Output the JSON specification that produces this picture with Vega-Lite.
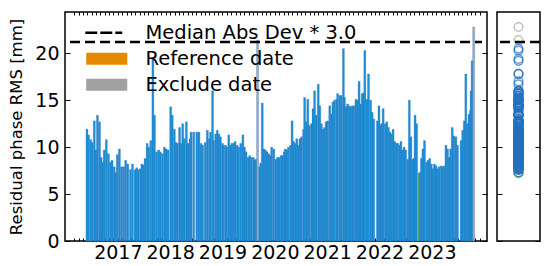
{
  "$schema": "https://vega.github.io/schema/vega-lite/v6.json",
  "padding": {"left": 8, "top": 10, "right": 0, "bottom": 0},
  "background": "white",
  "config": {
    "view": {"stroke": "black", "strokeWidth": 1.5},
    "axis": {"domain": false, "grid": false, "tickColor": "black", "tickWidth": 1, "labelColor": "black", "labelFont": "DejaVu Sans", "labelFontSize": 19, "titleFont": "DejaVu Sans", "titleFontWeight": "normal", "titleColor": "black"}
  },
  "datasets": {
    "bars": [
      {"t": 2016.41, "v": 11.9, "s": "n"}, {"t": 2016.44, "v": 11.3, "s": "n"}, {"t": 2016.48, "v": 10.8, "s": "n"}, {"t": 2016.51, "v": 10.5, "s": "n"},
      {"t": 2016.55, "v": 12.8, "s": "n"}, {"t": 2016.58, "v": 9.7, "s": "n"}, {"t": 2016.61, "v": 13.4, "s": "n"}, {"t": 2016.65, "v": 12.7, "s": "n"},
      {"t": 2016.68, "v": 8.9, "s": "n"}, {"t": 2016.71, "v": 8.4, "s": "n"}, {"t": 2016.74, "v": 9.7, "s": "n"}, {"t": 2016.78, "v": 10.8, "s": "n"},
      {"t": 2016.82, "v": 9.3, "s": "n"}, {"t": 2016.86, "v": 8.4, "s": "n"}, {"t": 2016.89, "v": 8.6, "s": "n"}, {"t": 2016.93, "v": 7.9, "s": "n"},
      {"t": 2016.96, "v": 7.3, "s": "n"}, {"t": 2016.99, "v": 9.2, "s": "n"}, {"t": 2017.03, "v": 9.8, "s": "n"}, {"t": 2017.07, "v": 7.9, "s": "n"},
      {"t": 2017.11, "v": 7.9, "s": "n"}, {"t": 2017.15, "v": 8.6, "s": "n"}, {"t": 2017.19, "v": 8.2, "s": "n"}, {"t": 2017.24, "v": 7.6, "s": "n"},
      {"t": 2017.28, "v": 8.2, "s": "n"}, {"t": 2017.33, "v": 7.6, "s": "n"}, {"t": 2017.36, "v": 7.8, "s": "n"}, {"t": 2017.39, "v": 7.6, "s": "n"},
      {"t": 2017.43, "v": 7.7, "s": "n"}, {"t": 2017.46, "v": 8.2, "s": "n"}, {"t": 2017.49, "v": 8.1, "s": "n"}, {"t": 2017.52, "v": 8.8, "s": "n"},
      {"t": 2017.56, "v": 10.4, "s": "n"}, {"t": 2017.59, "v": 10.0, "s": "n"}, {"t": 2017.63, "v": 10.7, "s": "n"}, {"t": 2017.67, "v": 19.4, "s": "n"},
      {"t": 2017.70, "v": 13.4, "s": "n"}, {"t": 2017.74, "v": 9.5, "s": "n"}, {"t": 2017.78, "v": 9.7, "s": "n"}, {"t": 2017.81, "v": 9.5, "s": "n"},
      {"t": 2017.85, "v": 9.3, "s": "n"}, {"t": 2017.89, "v": 10.0, "s": "n"}, {"t": 2017.92, "v": 9.8, "s": "n"}, {"t": 2017.96, "v": 9.7, "s": "n"},
      {"t": 2018.01, "v": 14.3, "s": "n"}, {"t": 2018.04, "v": 13.4, "s": "n"}, {"t": 2018.08, "v": 11.9, "s": "n"}, {"t": 2018.11, "v": 10.5, "s": "n"},
      {"t": 2018.14, "v": 10.4, "s": "n"}, {"t": 2018.18, "v": 12.1, "s": "n"}, {"t": 2018.21, "v": 10.4, "s": "n"}, {"t": 2018.24, "v": 12.5, "s": "n"},
      {"t": 2018.27, "v": 10.9, "s": "n"}, {"t": 2018.31, "v": 12.7, "s": "n"}, {"t": 2018.34, "v": 10.4, "s": "n"}, {"t": 2018.38, "v": 10.9, "s": "n"},
      {"t": 2018.40, "v": 11.6, "s": "n"}, {"t": 2018.45, "v": 11.6, "s": "n"}, {"t": 2018.51, "v": 11.6, "s": "n"}, {"t": 2018.55, "v": 11.6, "s": "n"},
      {"t": 2018.59, "v": 10.4, "s": "n"}, {"t": 2018.62, "v": 10.2, "s": "n"}, {"t": 2018.67, "v": 10.5, "s": "n"}, {"t": 2018.71, "v": 11.8, "s": "n"},
      {"t": 2018.75, "v": 10.9, "s": "n"}, {"t": 2018.77, "v": 11.6, "s": "n"}, {"t": 2018.81, "v": 16.0, "s": "n"}, {"t": 2018.83, "v": 10.7, "s": "n"},
      {"t": 2018.87, "v": 11.4, "s": "n"}, {"t": 2018.90, "v": 11.8, "s": "n"}, {"t": 2018.93, "v": 11.4, "s": "n"}, {"t": 2018.96, "v": 11.1, "s": "n"},
      {"t": 2019.00, "v": 10.4, "s": "n"}, {"t": 2019.02, "v": 10.2, "s": "n"}, {"t": 2019.06, "v": 10.2, "s": "n"}, {"t": 2019.08, "v": 10.0, "s": "n"},
      {"t": 2019.12, "v": 11.3, "s": "n"}, {"t": 2019.15, "v": 10.2, "s": "n"}, {"t": 2019.18, "v": 10.4, "s": "n"}, {"t": 2019.21, "v": 10.4, "s": "n"},
      {"t": 2019.24, "v": 10.6, "s": "n"}, {"t": 2019.28, "v": 10.2, "s": "n"}, {"t": 2019.31, "v": 10.0, "s": "n"}, {"t": 2019.35, "v": 10.4, "s": "n"},
      {"t": 2019.39, "v": 11.3, "s": "n"}, {"t": 2019.42, "v": 10.0, "s": "n"}, {"t": 2019.45, "v": 9.5, "s": "n"}, {"t": 2019.49, "v": 8.9, "s": "n"},
      {"t": 2019.52, "v": 9.1, "s": "n"}, {"t": 2019.55, "v": 8.9, "s": "n"}, {"t": 2019.59, "v": 8.9, "s": "n"}, {"t": 2019.61, "v": 8.6, "s": "n"},
      {"t": 2019.64, "v": 8.7, "s": "n"}, {"t": 2019.67, "v": 21.4, "s": "x"}, {"t": 2019.71, "v": 7.9, "s": "n"}, {"t": 2019.73, "v": 8.3, "s": "n"},
      {"t": 2019.76, "v": 14.7, "s": "n"}, {"t": 2019.79, "v": 9.8, "s": "n"}, {"t": 2019.82, "v": 9.7, "s": "n"}, {"t": 2019.85, "v": 9.5, "s": "n"},
      {"t": 2019.88, "v": 9.3, "s": "n"}, {"t": 2019.91, "v": 9.1, "s": "n"}, {"t": 2019.94, "v": 10.0, "s": "n"}, {"t": 2019.98, "v": 9.8, "s": "n"},
      {"t": 2020.02, "v": 8.7, "s": "n"}, {"t": 2020.05, "v": 8.9, "s": "n"}, {"t": 2020.08, "v": 8.9, "s": "n"}, {"t": 2020.12, "v": 9.1, "s": "n"},
      {"t": 2020.15, "v": 9.1, "s": "n"}, {"t": 2020.18, "v": 9.5, "s": "n"}, {"t": 2020.20, "v": 9.8, "s": "n"}, {"t": 2020.23, "v": 9.7, "s": "n"},
      {"t": 2020.26, "v": 10.0, "s": "n"}, {"t": 2020.30, "v": 10.2, "s": "n"}, {"t": 2020.33, "v": 12.8, "s": "n"}, {"t": 2020.36, "v": 10.6, "s": "n"},
      {"t": 2020.39, "v": 10.4, "s": "n"}, {"t": 2020.42, "v": 10.9, "s": "n"}, {"t": 2020.45, "v": 10.2, "s": "n"}, {"t": 2020.48, "v": 10.9, "s": "n"},
      {"t": 2020.51, "v": 11.1, "s": "n"}, {"t": 2020.55, "v": 11.9, "s": "n"}, {"t": 2020.57, "v": 15.3, "s": "n"}, {"t": 2020.60, "v": 12.7, "s": "n"},
      {"t": 2020.63, "v": 15.1, "s": "n"}, {"t": 2020.66, "v": 12.3, "s": "n"}, {"t": 2020.70, "v": 12.5, "s": "n"}, {"t": 2020.73, "v": 14.1, "s": "n"},
      {"t": 2020.76, "v": 16.0, "s": "n"}, {"t": 2020.79, "v": 13.4, "s": "n"}, {"t": 2020.83, "v": 16.7, "s": "n"}, {"t": 2020.86, "v": 14.4, "s": "n"},
      {"t": 2020.89, "v": 12.5, "s": "n"}, {"t": 2020.92, "v": 11.9, "s": "n"}, {"t": 2020.95, "v": 12.1, "s": "n"}, {"t": 2020.98, "v": 12.7, "s": "n"},
      {"t": 2021.01, "v": 12.8, "s": "n"}, {"t": 2021.05, "v": 14.4, "s": "n"}, {"t": 2021.08, "v": 13.5, "s": "n"}, {"t": 2021.11, "v": 14.8, "s": "n"},
      {"t": 2021.14, "v": 15.0, "s": "n"}, {"t": 2021.18, "v": 15.1, "s": "n"}, {"t": 2021.20, "v": 15.7, "s": "n"}, {"t": 2021.24, "v": 15.5, "s": "n"},
      {"t": 2021.27, "v": 15.5, "s": "n"}, {"t": 2021.31, "v": 20.5, "s": "n"}, {"t": 2021.33, "v": 15.3, "s": "n"}, {"t": 2021.36, "v": 14.3, "s": "n"},
      {"t": 2021.39, "v": 14.6, "s": "n"}, {"t": 2021.42, "v": 14.4, "s": "n"}, {"t": 2021.45, "v": 14.3, "s": "n"}, {"t": 2021.48, "v": 14.4, "s": "n"},
      {"t": 2021.51, "v": 14.4, "s": "n"}, {"t": 2021.55, "v": 15.1, "s": "n"}, {"t": 2021.58, "v": 15.0, "s": "n"}, {"t": 2021.61, "v": 17.0, "s": "n"},
      {"t": 2021.64, "v": 14.6, "s": "n"}, {"t": 2021.67, "v": 15.7, "s": "n"}, {"t": 2021.70, "v": 15.8, "s": "n"}, {"t": 2021.72, "v": 20.3, "s": "n"},
      {"t": 2021.76, "v": 15.1, "s": "n"}, {"t": 2021.79, "v": 17.8, "s": "n"}, {"t": 2021.83, "v": 15.0, "s": "n"}, {"t": 2021.86, "v": 13.7, "s": "n"},
      {"t": 2021.89, "v": 13.0, "s": "n"}, {"t": 2021.96, "v": 12.8, "s": "n"}, {"t": 2021.99, "v": 14.4, "s": "n"}, {"t": 2022.01, "v": 12.3, "s": "n"},
      {"t": 2022.04, "v": 12.5, "s": "n"}, {"t": 2022.07, "v": 14.1, "s": "n"}, {"t": 2022.11, "v": 12.5, "s": "n"}, {"t": 2022.14, "v": 12.7, "s": "n"},
      {"t": 2022.17, "v": 12.1, "s": "n"}, {"t": 2022.20, "v": 11.6, "s": "n"}, {"t": 2022.23, "v": 11.4, "s": "n"}, {"t": 2022.26, "v": 11.9, "s": "n"},
      {"t": 2022.29, "v": 10.6, "s": "n"}, {"t": 2022.32, "v": 10.4, "s": "n"}, {"t": 2022.35, "v": 10.4, "s": "n"}, {"t": 2022.39, "v": 10.2, "s": "n"},
      {"t": 2022.41, "v": 10.6, "s": "n"}, {"t": 2022.44, "v": 9.7, "s": "n"}, {"t": 2022.47, "v": 10.0, "s": "n"}, {"t": 2022.50, "v": 9.7, "s": "n"},
      {"t": 2022.54, "v": 8.7, "s": "n"}, {"t": 2022.57, "v": 15.0, "s": "n"}, {"t": 2022.60, "v": 11.1, "s": "n"}, {"t": 2022.63, "v": 8.7, "s": "n"},
      {"t": 2022.66, "v": 8.8, "s": "n"}, {"t": 2022.68, "v": 13.4, "s": "n"}, {"t": 2022.71, "v": 12.5, "s": "n"}, {"t": 2022.74, "v": 7.2, "s": "r"},
      {"t": 2022.77, "v": 7.3, "s": "n"}, {"t": 2022.80, "v": 8.8, "s": "n"}, {"t": 2022.83, "v": 9.8, "s": "n"}, {"t": 2022.86, "v": 10.7, "s": "n"},
      {"t": 2022.90, "v": 8.4, "s": "n"}, {"t": 2022.93, "v": 8.6, "s": "n"}, {"t": 2022.96, "v": 8.8, "s": "n"}, {"t": 2022.99, "v": 8.2, "s": "n"},
      {"t": 2023.02, "v": 7.7, "s": "n"}, {"t": 2023.05, "v": 8.2, "s": "n"}, {"t": 2023.08, "v": 8.0, "s": "n"}, {"t": 2023.11, "v": 7.7, "s": "n"},
      {"t": 2023.14, "v": 7.9, "s": "n"}, {"t": 2023.18, "v": 8.0, "s": "n"}, {"t": 2023.21, "v": 7.9, "s": "n"}, {"t": 2023.24, "v": 8.0, "s": "n"},
      {"t": 2023.27, "v": 10.2, "s": "n"}, {"t": 2023.30, "v": 9.8, "s": "n"}, {"t": 2023.33, "v": 8.9, "s": "n"}, {"t": 2023.36, "v": 9.8, "s": "n"},
      {"t": 2023.39, "v": 12.1, "s": "n"}, {"t": 2023.42, "v": 11.2, "s": "n"}, {"t": 2023.46, "v": 11.1, "s": "n"}, {"t": 2023.49, "v": 10.2, "s": "n"},
      {"t": 2023.56, "v": 10.7, "s": "n"}, {"t": 2023.59, "v": 11.8, "s": "n"}, {"t": 2023.62, "v": 12.8, "s": "n"}, {"t": 2023.65, "v": 17.8, "s": "n"},
      {"t": 2023.68, "v": 12.5, "s": "n"}, {"t": 2023.71, "v": 13.5, "s": "n"}, {"t": 2023.74, "v": 13.9, "s": "n"}, {"t": 2023.75, "v": 16.0, "s": "n"},
      {"t": 2023.77, "v": 19.2, "s": "n"}, {"t": 2023.80, "v": 22.8, "s": "x"}
    ],
    "items": [
      {"item": "Median Abs Dev * 3.0"}, {"item": "Reference date"}, {"item": "Exclude date"}
    ]
  },
  "spacing": 6,
  "hconcat": [
    {
      "width": 422,
      "height": 229,
      "resolve": {"axis": {"x": "independent", "y": "independent"}},
      "layer": [
        {
          "data": {"name": "bars"},
          "mark": {"type": "bar", "width": 2, "stroke": "#3272c6", "strokeWidth": 0.3},
          "encoding": {
            "x": {"field": "t", "type": "quantitative",
              "scale": {"domain": [2016.086, 2023.959], "nice": false, "zero": false},
              "axis": {"orient": "bottom", "title": null, "tickSize": -3, "labelPadding": 5, "labelFlush": false, "labelOverlap": false,
                "labelExpr": "abs(datum.value - round(datum.value)) < 0.01 ? format(datum.value, 'd') : ''",
                "values": [2016.1667,2016.25,2016.3333,2016.4167,2016.5,2016.5833,2016.6667,2016.75,2016.8333,2016.9167,
                  2017,2017.0833,2017.1667,2017.25,2017.3333,2017.4167,2017.5,2017.5833,2017.6667,2017.75,2017.8333,2017.9167,
                  2018,2018.0833,2018.1667,2018.25,2018.3333,2018.4167,2018.5,2018.5833,2018.6667,2018.75,2018.8333,2018.9167,
                  2019,2019.0833,2019.1667,2019.25,2019.3333,2019.4167,2019.5,2019.5833,2019.6667,2019.75,2019.8333,2019.9167,
                  2020,2020.0833,2020.1667,2020.25,2020.3333,2020.4167,2020.5,2020.5833,2020.6667,2020.75,2020.8333,2020.9167,
                  2021,2021.0833,2021.1667,2021.25,2021.3333,2021.4167,2021.5,2021.5833,2021.6667,2021.75,2021.8333,2021.9167,
                  2022,2022.0833,2022.1667,2022.25,2022.3333,2022.4167,2022.5,2022.5833,2022.6667,2022.75,2022.8333,2022.9167,
                  2023,2023.0833,2023.1667,2023.25,2023.3333,2023.4167,2023.5,2023.5833,2023.6667,2023.75,2023.8333,2023.9167]}},
            "y": {"field": "v", "type": "quantitative",
              "scale": {"domain": [0, 24.4], "nice": false},
              "axis": {"orient": "left", "values": [0, 5, 10, 15, 20], "tickSize": -5, "labelPadding": 11,
                "title": "Residual phase RMS [mm]", "titleFontSize": 16.5, "titlePadding": 10}},
            "color": {"field": "s", "type": "nominal",
              "scale": {"domain": ["n", "r", "x"], "range": ["#1d8fd2", "#7ccd3c", "#a8a8a8"]}, "legend": null}
          }
        },
        {
          "data": {"values": [{}]},
          "mark": {"type": "rule", "strokeDash": [10, 5], "strokeWidth": 2.4, "color": "black"},
          "encoding": {
            "x": {"datum": 2016.086, "type": "quantitative",
              "axis": {"orient": "top", "title": null, "labels": false, "tickSize": -3,
                "values": [2016.1667,2016.25,2016.3333,2016.4167,2016.5,2016.5833,2016.6667,2016.75,2016.8333,2016.9167,
                  2017,2017.0833,2017.1667,2017.25,2017.3333,2017.4167,2017.5,2017.5833,2017.6667,2017.75,2017.8333,2017.9167,
                  2018,2018.0833,2018.1667,2018.25,2018.3333,2018.4167,2018.5,2018.5833,2018.6667,2018.75,2018.8333,2018.9167,
                  2019,2019.0833,2019.1667,2019.25,2019.3333,2019.4167,2019.5,2019.5833,2019.6667,2019.75,2019.8333,2019.9167,
                  2020,2020.0833,2020.1667,2020.25,2020.3333,2020.4167,2020.5,2020.5833,2020.6667,2020.75,2020.8333,2020.9167,
                  2021,2021.0833,2021.1667,2021.25,2021.3333,2021.4167,2021.5,2021.5833,2021.6667,2021.75,2021.8333,2021.9167,
                  2022,2022.0833,2022.1667,2022.25,2022.3333,2022.4167,2022.5,2022.5833,2022.6667,2022.75,2022.8333,2022.9167,
                  2023,2023.0833,2023.1667,2023.25,2023.3333,2023.4167,2023.5,2023.5833,2023.6667,2023.75,2023.8333,2023.9167]}},
            "x2": {"datum": 2023.959},
            "y": {"datum": 21.2, "type": "quantitative",
              "axis": {"orient": "right", "title": null, "labels": false, "tickSize": -5, "values": [0, 5, 10, 15, 20]}}
          }
        },
        {
          "data": {"name": "items"},
          "mark": {"type": "point", "filled": true, "opacity": 0},
          "encoding": {
            "x": {"datum": 2017, "type": "quantitative", "axis": null},
            "y": {"datum": 1, "type": "quantitative", "axis": null},
            "fill": {"field": "item", "type": "nominal",
              "scale": {"domain": ["Median Abs Dev * 3.0", "Reference date", "Exclude date"], "range": ["black", "#e58a00", "#a0a0a0"]},
              "legend": {"title": null, "orient": "none", "legendX": 32, "legendY": 11, "symbolSize": 144, "symbolOpacity": 1, "symbolStrokeWidth": 0,
                "labelFontSize": 19.5, "labelFont": "DejaVu Sans", "labelColor": "black", "labelOffset": 29, "labelLimit": 400, "rowPadding": 5, "padding": 0}},
            "shape": {"field": "item", "type": "nominal",
              "scale": {"domain": ["Median Abs Dev * 3.0", "Reference date", "Exclude date"],
                "range": ["M-3.58,-0.2H-1.58V0.2H-3.58Z M-1.08,-0.2H0.92V0.2H-1.08Z M1.42,-0.2H2.58V0.2H1.42Z", "M-3.42,-1H3.42V1H-3.42Z", "M-3.42,-1H3.42V1H-3.42Z"]},
              "legend": {"title": null, "orient": "none", "legendX": 32, "legendY": 11, "symbolSize": 144, "symbolOpacity": 1, "symbolStrokeWidth": 0,
                "labelFontSize": 19.5, "labelFont": "DejaVu Sans", "labelColor": "black", "labelOffset": 29, "labelLimit": 400, "rowPadding": 5, "padding": 0}}
          }
        }
      ]
    },
    {
      "width": 43,
      "height": 229,
      "resolve": {"axis": {"y": "independent"}},
      "layer": [
        {
          "data": {"name": "bars"},
          "mark": {"type": "point", "filled": false, "size": 75, "strokeWidth": 1.5},
          "encoding": {
            "x": {"datum": 0, "type": "quantitative", "scale": {"domain": [-1, 1]}, "axis": null},
            "y": {"field": "v", "type": "quantitative", "scale": {"domain": [0, 24.4], "nice": false},
              "axis": {"orient": "left", "title": null, "labels": false, "tickSize": -5, "values": [0, 5, 10, 15, 20]}},
            "stroke": {"field": "s", "type": "nominal",
              "scale": {"domain": ["n", "r", "x"], "range": ["#2470c0", "#7ccd3c", "#a8a8a8"]}, "legend": null}
          }
        },
        {
          "data": {"values": [{}]},
          "mark": {"type": "rule", "strokeDash": [10, 5], "strokeWidth": 2.4, "color": "black"},
          "encoding": {
            "y": {"datum": 21.2, "type": "quantitative",
              "axis": {"orient": "right", "title": null, "labels": false, "tickSize": -5, "values": [0, 5, 10, 15, 20]}}
          }
        }
      ]
    }
  ]
}
